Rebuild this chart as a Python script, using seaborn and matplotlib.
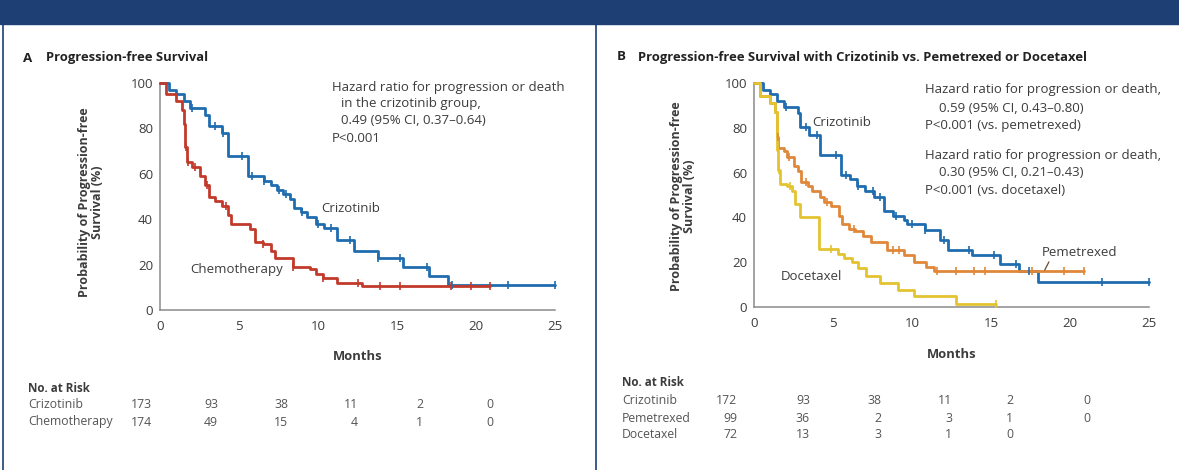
import numpy as np
import pandas as pd
import matplotlib
matplotlib.use("Agg")
import matplotlib.pyplot as plt
import seaborn as sns

# ---------------- data ----------------
months_ticks = [0, 5, 10, 15, 20, 25]
pct_ticks = [0, 20, 40, 60, 80, 100]

# Panel A: crizotinib vs chemotherapy (step change points: month, % progression-free)
a_criz_t = [0, 0.6, 1.0, 1.5, 1.9, 2.85, 3.1, 3.9, 4.3, 5.6, 6.6, 7.0, 7.4, 7.8, 8.2, 8.5,
            8.9, 9.3, 9.9, 10.4, 11.2, 12.3, 13.8, 15.4, 17.0, 18.2, 25.0]
a_criz_v = [100, 97, 95, 92, 89, 86, 81, 78, 68, 59, 57, 55, 53, 51, 49, 45,
            43, 41, 38, 36, 31, 26, 23, 19, 15, 11, 11]
a_criz_cens = [2.0, 3.5, 4.0, 5.2, 5.8, 6.6, 7.5, 8.0, 9.0, 10.0, 10.8, 12.0, 13.8, 15.2,
               16.9, 18.5, 22.0, 25.0]

a_chemo_t = [0, 0.4, 1.0, 1.4, 1.5, 1.6, 1.7, 2.0, 2.5, 2.85, 3.1, 3.5, 3.9, 4.3, 4.5, 5.7,
             6.0, 6.5, 7.0, 7.3, 8.4, 9.5, 9.9, 10.3, 11.2, 12.8, 20.9]
a_chemo_v = [100, 95, 92, 88, 82, 72, 65, 63, 59, 55, 50, 48, 46, 42, 38, 35.5,
             30, 29, 26, 23, 19, 18, 16, 14, 12, 10.5, 10.5]
a_chemo_cens = [1.65, 1.75, 2.2, 3.0, 4.2, 6.5, 8.4, 10.3, 12.5, 13.9, 15.2, 18.4, 19.7, 20.9]

# Panel B: crizotinib vs pemetrexed vs docetaxel
b_criz_t = [0, 0.6, 1.0, 1.45, 1.9, 2.8, 2.9, 3.5, 4.2, 5.5, 6.1, 6.5, 7.0, 7.6, 8.2, 8.8,
            9.5, 9.7, 10.8, 11.8, 12.3, 13.8, 15.6, 16.8, 18.0, 25.0]
b_criz_v = [100, 97, 95, 92, 89.5, 86.5, 80.5, 77, 68, 59, 57, 54, 52, 49, 43, 40.5,
            39, 37, 34.5, 30, 25.5, 23, 19, 16, 11, 11]
b_criz_cens = [2.0, 3.3, 4.0, 5.2, 5.8, 6.6, 7.5, 8.0, 9.0, 10.0, 10.8, 12.0, 13.6, 15.2,
               16.6, 17.4, 22.0, 25.0]

b_pem_t = [0, 0.4, 1.0, 1.35, 1.45, 1.55, 1.9, 2.1, 2.5, 2.8, 3.0, 3.4, 3.7, 4.2, 4.4, 4.9,
           5.4, 5.6, 6.0, 6.4, 6.9, 7.4, 8.4, 9.5, 10.1, 10.9, 11.4, 20.9]
b_pem_v = [100, 94, 91, 87, 76, 71, 69.5, 67, 63, 60.5, 56, 54, 52, 49, 47, 45,
           40.5, 37, 35, 34, 31.5, 29, 25.5, 23, 20, 18, 16, 16]
b_pem_cens = [1.5, 2.2, 3.3, 4.6, 6.3, 8.8, 9.2, 11.6, 12.8, 13.9, 14.6, 17.6, 19.6, 20.9]

b_doc_t = [0, 0.4, 1.0, 1.35, 1.45, 1.55, 1.65, 2.1, 2.4, 2.6, 2.9, 4.1, 5.3, 5.7, 6.2,
           6.6, 7.1, 8.0, 9.1, 10.1, 12.8, 15.3]
b_doc_v = [100, 94, 91, 87, 70, 61, 55, 54, 52, 46, 40, 26, 23.5, 22, 20,
           17.5, 13.7, 10.7, 7.7, 4.8, 1.5, 1.5]
b_doc_cens = [1.6, 2.3, 4.9, 15.3]

# No. at risk tables
risk_a_groups = ["Crizotinib", "Chemotherapy"]
risk_a_values = [[173, 93, 38, 11, 2, 0], [174, 49, 15, 4, 1, 0]]
risk_b_groups = ["Crizotinib", "Pemetrexed", "Docetaxel"]
risk_b_values = [[172, 93, 38, 11, 2, 0], [99, 36, 2, 3, 1, 0], [72, 13, 3, 1, 0]]

# ---------------- style ----------------
W, H = 1179, 470
BLUE = "#1f6cae"
RED = "#c23a2b"
ORANGE = "#e0873a"
YELLOW = "#e3c430"
NAVY = "#1d3f74"
TXT = "#3c3c3c"
GRAY_T = "#555555"
AXC = "#8a8a8a"
FS = 9.5      # annotation / tick text
FS_T = 8.8    # risk table text
BAND = 24     # height of the header band in pixels

sns.set_style("white")
plt.rcParams["font.family"] = ["Open Sans", "DejaVu Sans"]

fig = plt.figure(figsize=(W / 100, H / 100), dpi=100)
fig.patch.set_facecolor("white")


def fx(x):
    return x / W


def fy(y):
    return 1 - y / H


def ftext(x, y, s, **kw):
    kw.setdefault("color", TXT)
    kw.setdefault("va", "center")
    kw.setdefault("fontsize", FS)
    fig.text(fx(x), fy(y), s, **kw)


# header band and frame lines
fig.add_artist(plt.Rectangle((0, fy(BAND)), 1, BAND / H, transform=fig.transFigure,
                             color=NAVY, zorder=5))
for xline in (2.5, 596):
    fig.add_artist(plt.Line2D([fx(xline), fx(xline)], [0, fy(BAND - 1)],
                              transform=fig.transFigure, color=NAVY, lw=1.2))


def make_axes(x0, x1, y0, y1):
    ax = fig.add_axes([fx(x0), fy(y0), (x1 - x0) / W, (y0 - y1) / H])
    ax.set_xlim(0, 25)
    ax.set_ylim(0, 100)
    ax.set_facecolor("none")
    for s in ("top", "right"):
        ax.spines[s].set_visible(False)
    for s in ("left", "bottom"):
        ax.spines[s].set_color(AXC)
        ax.spines[s].set_linewidth(1.1)
    ax.set_xticks(months_ticks)
    ax.set_yticks(pct_ticks)
    ax.tick_params(axis="x", direction="inout", length=6, width=0.9, color=AXC,
                   labelsize=FS, labelcolor=TXT, pad=4)
    ax.tick_params(axis="y", direction="out", length=5, width=0.9, color=AXC,
                   labelsize=FS, labelcolor=TXT, pad=0)
    ax.set_xlabel("")
    ax.set_ylabel("")
    return ax


def km(ax, t, v, cens, color):
    df = pd.DataFrame({"month": t, "pfs": v})
    sns.lineplot(data=df, x="month", y="pfs", ax=ax, color=color, lw=2.0,
                 drawstyle="steps-post", estimator=None, clip_on=False, zorder=3)
    idx = np.searchsorted(np.asarray(t), np.asarray(cens), side="right") - 1
    cy = np.asarray(v)[idx]
    cdf = pd.DataFrame({"month": cens, "pfs": cy})
    sns.scatterplot(data=cdf, x="month", y="pfs", ax=ax, marker="|", s=26,
                    color=color, linewidth=1.2, clip_on=False, zorder=4)
    ax.set_xlabel("")
    ax.set_ylabel("")


# ---------------- panel A ----------------
axA = make_axes(160, 555, 310, 83)
km(axA, a_criz_t, a_criz_v, a_criz_cens, BLUE)
km(axA, a_chemo_t, a_chemo_v, a_chemo_cens, RED)

ftext(23, 58, "A", fontweight="bold", fontsize=9.6, color="#222222")
ftext(46, 58, "Progression-free Survival", fontweight="bold", fontsize=9.4, color="#222222")
ftext(91, 202, "Probability of Progression-free\nSurvival (%)", rotation=90, ha="center",
      fontweight="bold", fontsize=9.0, linespacing=1.0)
ftext(358, 357, "Months", ha="center", fontweight="bold", fontsize=9.4)
ftext(321, 208, "Crizotinib")
ftext(190, 270, "Chemotherapy")
ftext(332, 88, "Hazard ratio for progression or death")
ftext(341, 104, "in the crizotinib group,")
ftext(341, 121, "0.49 (95% CI, 0.37\u20130.64)")
ftext(332, 139, "P<0.001")

ftext(28, 388, "No. at Risk", fontweight="bold", fontsize=8.4)
cols_a = [152, 218, 288, 358, 423, 493]
for r, (g, vals) in enumerate(zip(risk_a_groups, risk_a_values)):
    yy = 405 + 17 * r
    ftext(28, yy, g, color=GRAY_T, fontsize=FS_T)
    for xc, val in zip(cols_a, vals):
        ftext(xc, yy, str(val), ha="right", color=GRAY_T, fontsize=FS_T)

# ---------------- panel B ----------------
axB = make_axes(754, 1149, 307, 83)
km(axB, b_criz_t, b_criz_v, b_criz_cens, BLUE)
km(axB, b_pem_t, b_pem_v, b_pem_cens, ORANGE)
km(axB, b_doc_t, b_doc_v, b_doc_cens, YELLOW)

ftext(617, 57, "B", fontweight="bold", fontsize=9.6, color="#222222")
ftext(638, 57, "Progression-free Survival with Crizotinib vs. Pemetrexed or Docetaxel",
      fontweight="bold", fontsize=9.4, color="#222222")
ftext(683, 196, "Probability of Progression-free\nSurvival (%)", rotation=90, ha="center",
      fontweight="bold", fontsize=9.0, linespacing=1.0)
ftext(952, 354, "Months", ha="center", fontweight="bold", fontsize=9.4)
ftext(812, 123, "Crizotinib")
ftext(781, 277, "Docetaxel")
axB.annotate("Pemetrexed", xy=(18.4, 16.5), xytext=(18.2, 24.5), textcoords="data",
             fontsize=FS, color=TXT, va="center", ha="left",
             arrowprops=dict(arrowstyle="-", color="#6b4a2a", lw=0.9,
                             shrinkA=0, shrinkB=0, relpos=(0.12, 0.0)))
hz_b = [(925, 90, "Hazard ratio for progression or death,"),
        (939, 108, "0.59 (95% CI, 0.43\u20130.80)"),
        (925, 125, "P<0.001 (vs. pemetrexed)"),
        (925, 155, "Hazard ratio for progression or death,"),
        (939, 173, "0.30 (95% CI, 0.21\u20130.43)"),
        (925, 190, "P<0.001 (vs. docetaxel)")]
for xx, yy, s in hz_b:
    ftext(xx, yy, s)

ftext(622, 383, "No. at Risk", fontweight="bold", fontsize=8.4)
cols_b = [737, 810, 881, 952, 1013, 1090]
for r, (g, vals) in enumerate(zip(risk_b_groups, risk_b_values)):
    yy = 401 + 17 * r
    ftext(622, yy, g, color=GRAY_T, fontsize=FS_T)
    for xc, val in zip(cols_b, vals):
        ftext(xc, yy, str(val), ha="right", color=GRAY_T, fontsize=FS_T)

fig.savefig("out.png", dpi=100, facecolor="white")
